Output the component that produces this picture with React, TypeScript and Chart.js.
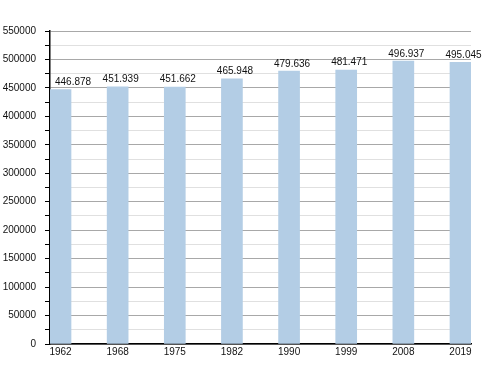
import React, { useEffect, useRef } from "react";
import { Chart, registerables } from "chart.js";

Chart.register(...registerables);

const years = ["1962", "1968", "1975", "1982", "1990", "1999", "2008", "2019"];
const population = [446878, 451939, 451662, 465948, 479636, 481471, 496937, 495045];
const valueLabels = ["446.878", "451.939", "451.662", "465.948", "479.636", "481.471", "496.937", "495.045"];
const yMax = 550000;
const yStep = 25000;

const FONT = "'Liberation Sans', Arial, sans-serif";
const FONT_SIZE = 10;

const valueLabelPlugin = {
  id: "valueLabels",
  afterDatasetsDraw(chart: any) {
    const ctx = chart.ctx;
    const meta = chart.getDatasetMeta(0);
    ctx.save();
    ctx.font = `${FONT_SIZE}px ${FONT}`;
    ctx.fillStyle = "#111";
    ctx.textAlign = "left";
    ctx.textBaseline = "alphabetic";
    meta.data.forEach((bar: any, i: number) => {
      const w = ctx.measureText(valueLabels[i]).width;
      let x = bar.x + 3 - w / 2;
      x = Math.max(x, chart.chartArea.left + 5);
      ctx.fillText(valueLabels[i], x, bar.y - 4.5);
    });
    ctx.restore();
  },
};

export default function App() {
  const ref = useRef<HTMLCanvasElement | null>(null);
  useEffect(() => {
    if (!ref.current) return;
    const chart = new Chart(ref.current, {
      type: "bar",
      data: {
        datasets: [
          {
            data: population.map((v, i) => ({ x: i, y: v })),
            backgroundColor: "#b3cde5",
            barThickness: 21,
          },
        ],
      },
      options: {
        animation: false,
        responsive: false,
        maintainAspectRatio: false,
        layout: { padding: { top: 31, right: 29, left: 0, bottom: 0 } },
        plugins: { legend: { display: false }, tooltip: { enabled: false } },
        scales: {
          x: {
            type: "linear",
            offset: false,
            min: -0.184,
            max: 7.184,
            afterBuildTicks(scale: any) {
              scale.ticks = years.map((_, i) => ({ value: i }));
            },
            afterFit(scale: any) {
              scale.height = 29;
            },
            grid: { display: false, offset: false, drawTicks: false, tickLength: 0 },
            border: { display: true, color: "#000", width: 1.5 },
            ticks: {
              autoSkip: false,
              maxRotation: 0,
              padding: 2,
              color: "#111",
              font: { family: FONT, size: FONT_SIZE },
              callback: (v: any) => years[Math.round(Number(v))] ?? "",
            },
          },
          y: {
            min: 0,
            max: yMax,
            afterFit(scale: any) {
              scale.width = 50;
            },
            grid: {
              color: (c: any) => (c.tick && c.tick.value % 50000 === 0 ? "#a8a8a8" : "#e0e0e0"),
              tickColor: "#000",
              tickLength: 5,
              lineWidth: 1,
            },
            border: { display: true, color: "#000", width: 1.5 },
            ticks: {
              stepSize: yStep,
              autoSkip: false,
              padding: 9,
              color: "#111",
              font: { family: FONT, size: FONT_SIZE },
              callback: (v: any) => (Number(v) % 50000 === 0 ? String(v) : ""),
            },
          },
        },
      },
      plugins: [valueLabelPlugin],
    } as any);
    return () => chart.destroy();
  }, []);
  return (
    <div style={{ position: "fixed", left: 0, top: 0, width: 500, height: 373, background: "#fff" }}>
      <canvas ref={ref} width={500} height={373} style={{ width: 500, height: 373 }} />
    </div>
  );
}
